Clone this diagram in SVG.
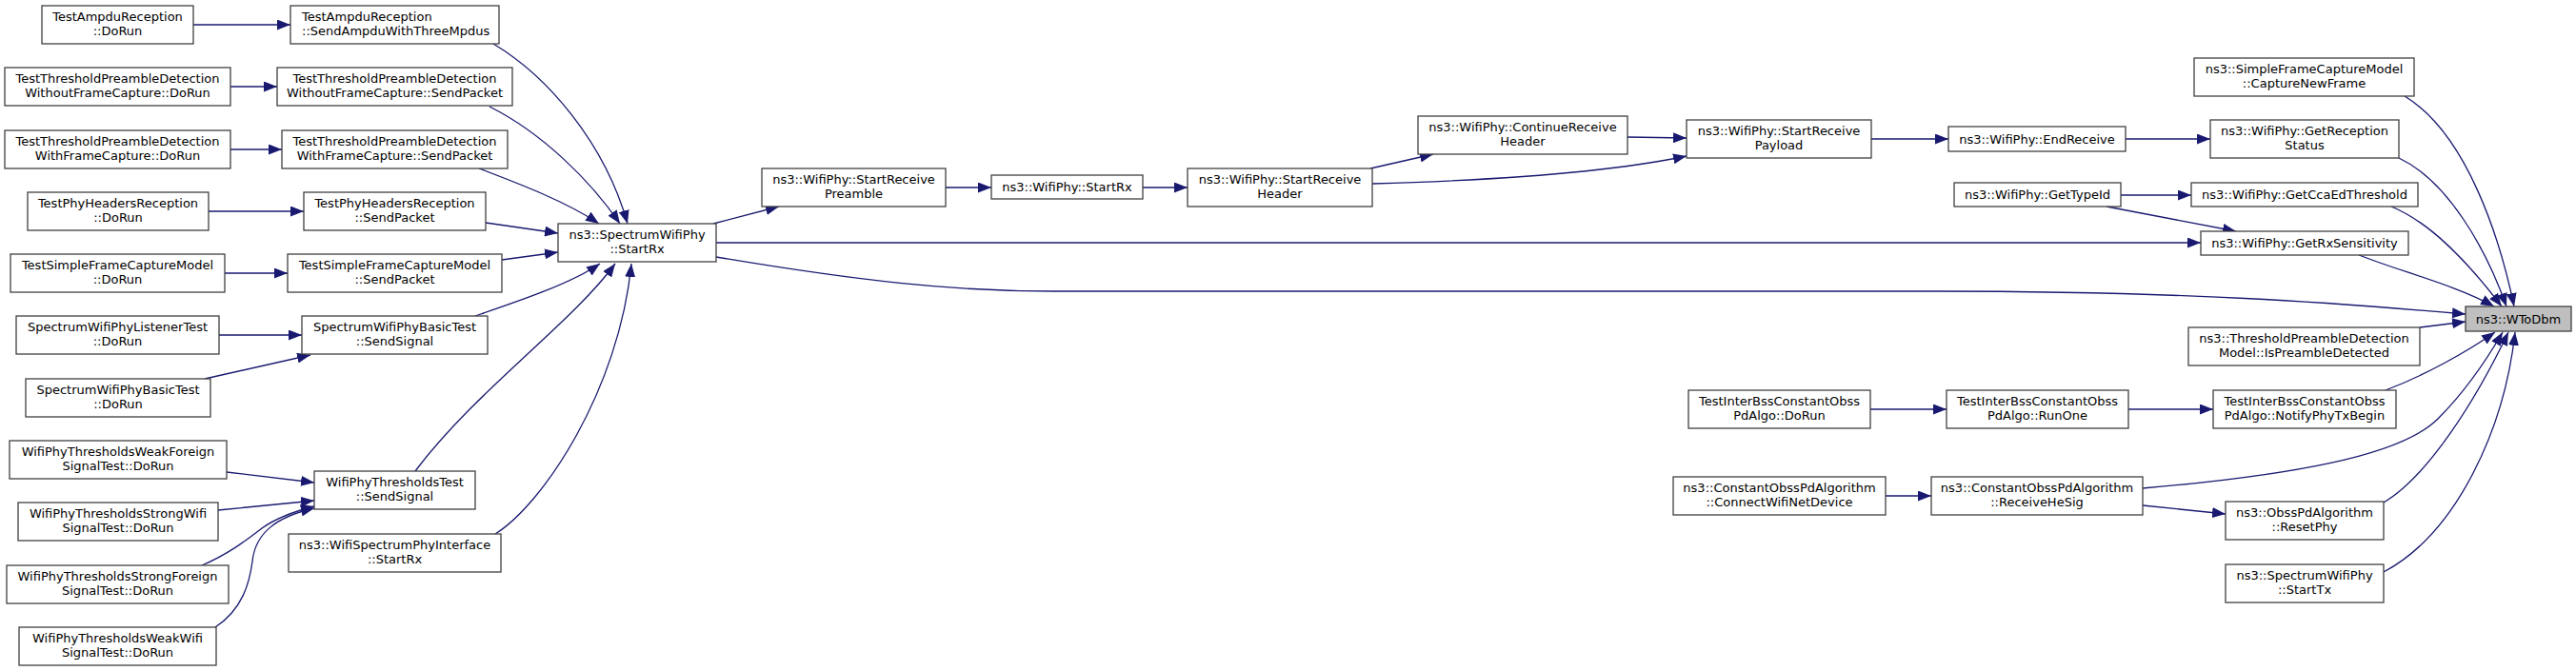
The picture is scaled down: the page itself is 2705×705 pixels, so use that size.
<svg xmlns="http://www.w3.org/2000/svg" width="2705" height="705" viewBox="0 0 2705 705">
<style>
.n rect{fill:#ffffff;stroke:#404040;stroke-width:1.3}
.root rect{fill:#bfbfbf;stroke:#404040;stroke-width:1.3}
text{font-family:"DejaVu Sans","Liberation Sans",sans-serif;font-size:13px;fill:#000;text-anchor:middle}
.e path{fill:none;stroke:#191970;stroke-width:1.3;marker-end:url(#ah)}
</style>
<defs>
<marker id="ah" viewBox="0 0 14 11" refX="14" refY="5.5" markerWidth="14" markerHeight="11" markerUnits="userSpaceOnUse" orient="auto">
<path d="M0,0 L14,5.5 L0,11 z" fill="#191970"/>
</marker>
</defs>
<rect width="2705" height="705" fill="#ffffff"/>
<g id="edges" class="e">
<path d="M203,26 L305,26"/>
<path d="M242,91 L291,91"/>
<path d="M242,157 L296,157"/>
<path d="M219,222 L319,222"/>
<path d="M236,287 L302,287"/>
<path d="M230,352 L317,352"/>
<path d="M215,398 L326,373"/>
<path d="M238,496 L330,507"/>
<path d="M229,536 L330,526"/>
<path d="M212,594 C240,582 258,568 275,555 C292,543 310,537 330,532"/>
<path d="M226,659 C255,640 262,612 265,590 C268,560 290,543 330,534"/>
<path d="M518,46 C575,80 635,150 659,235"/>
<path d="M514,112 C570,140 620,190 651,235"/>
<path d="M503,177 C545,193 595,212 629,235"/>
<path d="M510,234 L586,245"/>
<path d="M527,273 L586,265"/>
<path d="M499,332 C540,318 600,298 630,277"/>
<path d="M436,495 C500,410 600,340 646,277"/>
<path d="M520,561 C570,530 650,410 663,277"/>
<path d="M749,235 L818,217"/>
<path d="M752,255 L2311,255"/>
<path d="M752,270 C900,295 1000,306 1106,306 L2020,306 C2300,306 2450,318 2589,330"/>
<path d="M993,197 L1041,197"/>
<path d="M1200,197 L1247,197"/>
<path d="M1439,177 L1505,162"/>
<path d="M1441,193 C1550,190 1680,183 1771,164"/>
<path d="M1709,144 L1771,145"/>
<path d="M1965,146 L2046,146"/>
<path d="M2232,146 L2321,146"/>
<path d="M2227,205 L2301,205"/>
<path d="M2212,217 L2348,243"/>
<path d="M2525,101 C2590,140 2625,250 2640,322"/>
<path d="M2519,166 C2570,190 2610,260 2632,322"/>
<path d="M2511,217 C2555,235 2595,280 2627,322"/>
<path d="M2477,268 C2520,285 2580,300 2619,322"/>
<path d="M2541,344 L2589,338"/>
<path d="M2505,410 C2545,395 2590,370 2620,349"/>
<path d="M2250,513 C2400,500 2520,480 2560,440 C2590,410 2610,380 2628,349"/>
<path d="M2503,528 C2550,500 2600,420 2634,349"/>
<path d="M2503,601 C2580,560 2630,450 2641,349"/>
<path d="M2250,531 L2337,540"/>
<path d="M1964,430 L2044,430"/>
<path d="M2235,430 L2324,430"/>
<path d="M1980,521 L2028,521"/>
</g>
<g id="n1" class="n"><rect x="44" y="6" width="159" height="40"/><text x="123.5" y="22">TestAmpduReception</text><text x="123.5" y="37">::DoRun</text></g>
<g id="n2" class="n"><rect x="305" y="6" width="219" height="40"/><text x="317" y="22" style="text-anchor:start">TestAmpduReception</text><text x="317" y="37" style="text-anchor:start">::SendAmpduWithThreeMpdus</text></g>
<g id="n3" class="n"><rect x="5" y="71" width="237" height="40"/><text x="123.5" y="87">TestThresholdPreambleDetection</text><text x="123.5" y="102">WithoutFrameCapture::DoRun</text></g>
<g id="n4" class="n"><rect x="291" y="71" width="247" height="40"/><text x="414.5" y="87">TestThresholdPreambleDetection</text><text x="414.5" y="102">WithoutFrameCapture::SendPacket</text></g>
<g id="n5" class="n"><rect x="5" y="137" width="237" height="40"/><text x="123.5" y="153">TestThresholdPreambleDetection</text><text x="123.5" y="168">WithFrameCapture::DoRun</text></g>
<g id="n6" class="n"><rect x="296" y="137" width="237" height="40"/><text x="414.5" y="153">TestThresholdPreambleDetection</text><text x="414.5" y="168">WithFrameCapture::SendPacket</text></g>
<g id="n7" class="n"><rect x="29" y="202" width="190" height="40"/><text x="124" y="218">TestPhyHeadersReception</text><text x="124" y="233">::DoRun</text></g>
<g id="n8" class="n"><rect x="319" y="202" width="191" height="40"/><text x="414.5" y="218">TestPhyHeadersReception</text><text x="414.5" y="233">::SendPacket</text></g>
<g id="n9" class="n"><rect x="11" y="267" width="225" height="40"/><text x="123.5" y="283">TestSimpleFrameCaptureModel</text><text x="123.5" y="298">::DoRun</text></g>
<g id="n10" class="n"><rect x="302" y="267" width="225" height="40"/><text x="414.5" y="283">TestSimpleFrameCaptureModel</text><text x="414.5" y="298">::SendPacket</text></g>
<g id="n11" class="n"><rect x="17" y="332" width="213" height="40"/><text x="123.5" y="348">SpectrumWifiPhyListenerTest</text><text x="123.5" y="363">::DoRun</text></g>
<g id="n12" class="n"><rect x="317" y="332" width="195" height="40"/><text x="414.5" y="348">SpectrumWifiPhyBasicTest</text><text x="414.5" y="363">::SendSignal</text></g>
<g id="n13" class="n"><rect x="27" y="398" width="194" height="40"/><text x="124" y="414">SpectrumWifiPhyBasicTest</text><text x="124" y="429">::DoRun</text></g>
<g id="n14" class="n"><rect x="10" y="463" width="228" height="40"/><text x="124" y="479">WifiPhyThresholdsWeakForeign</text><text x="124" y="494">SignalTest::DoRun</text></g>
<g id="n15" class="n"><rect x="330" y="495" width="169" height="40"/><text x="414.5" y="511">WifiPhyThresholdsTest</text><text x="414.5" y="526">::SendSignal</text></g>
<g id="n16" class="n"><rect x="19" y="528" width="210" height="40"/><text x="124" y="544">WifiPhyThresholdsStrongWifi</text><text x="124" y="559">SignalTest::DoRun</text></g>
<g id="n17" class="n"><rect x="303" y="561" width="223" height="40"/><text x="414.5" y="577">ns3::WifiSpectrumPhyInterface</text><text x="414.5" y="592">::StartRx</text></g>
<g id="n18" class="n"><rect x="7" y="594" width="233" height="40"/><text x="123.5" y="610">WifiPhyThresholdsStrongForeign</text><text x="123.5" y="625">SignalTest::DoRun</text></g>
<g id="n19" class="n"><rect x="20" y="659" width="207" height="40"/><text x="123.5" y="675">WifiPhyThresholdsWeakWifi</text><text x="123.5" y="690">SignalTest::DoRun</text></g>
<g id="n20" class="n"><rect x="586" y="235" width="166" height="40"/><text x="669" y="251">ns3::SpectrumWifiPhy</text><text x="669" y="266">::StartRx</text></g>
<g id="n21" class="n"><rect x="800" y="177" width="193" height="40"/><text x="896.5" y="193">ns3::WifiPhy::StartReceive</text><text x="896.5" y="208">Preamble</text></g>
<g id="n22" class="n"><rect x="1041" y="184" width="159" height="25"/><text x="1120.5" y="201">ns3::WifiPhy::StartRx</text></g>
<g id="n23" class="n"><rect x="1247" y="177" width="194" height="40"/><text x="1344" y="193">ns3::WifiPhy::StartReceive</text><text x="1344" y="208">Header</text></g>
<g id="n24" class="n"><rect x="1489" y="122" width="220" height="40"/><text x="1599" y="138">ns3::WifiPhy::ContinueReceive</text><text x="1599" y="153">Header</text></g>
<g id="n25" class="n"><rect x="1771" y="126" width="194" height="40"/><text x="1868" y="142">ns3::WifiPhy::StartReceive</text><text x="1868" y="157">Payload</text></g>
<g id="n26" class="n"><rect x="2046" y="133" width="186" height="26"/><text x="2139" y="150.5">ns3::WifiPhy::EndReceive</text></g>
<g id="n27" class="n"><rect x="2304" y="61" width="231" height="40"/><text x="2419.5" y="77">ns3::SimpleFrameCaptureModel</text><text x="2419.5" y="92">::CaptureNewFrame</text></g>
<g id="n28" class="n"><rect x="2321" y="126" width="198" height="40"/><text x="2420" y="142">ns3::WifiPhy::GetReception</text><text x="2420" y="157">Status</text></g>
<g id="n29" class="n"><rect x="2052" y="192" width="175" height="25"/><text x="2139.5" y="209">ns3::WifiPhy::GetTypeId</text></g>
<g id="n30" class="n"><rect x="2301" y="192" width="238" height="25"/><text x="2420" y="209">ns3::WifiPhy::GetCcaEdThreshold</text></g>
<g id="n31" class="n"><rect x="2311" y="243" width="218" height="25"/><text x="2420" y="260">ns3::WifiPhy::GetRxSensitivity</text></g>
<g id="n32" class="root"><rect x="2589" y="322" width="111" height="26"/><text x="2644.5" y="339.5">ns3::WToDbm</text></g>
<g id="n33" class="n"><rect x="2298" y="344" width="243" height="40"/><text x="2419.5" y="360">ns3::ThresholdPreambleDetection</text><text x="2419.5" y="375">Model::IsPreambleDetected</text></g>
<g id="n34" class="n"><rect x="1773" y="410" width="191" height="40"/><text x="1868.5" y="426">TestInterBssConstantObss</text><text x="1868.5" y="441">PdAlgo::DoRun</text></g>
<g id="n35" class="n"><rect x="2044" y="410" width="191" height="40"/><text x="2139.5" y="426">TestInterBssConstantObss</text><text x="2139.5" y="441">PdAlgo::RunOne</text></g>
<g id="n36" class="n"><rect x="2324" y="410" width="192" height="40"/><text x="2420" y="426">TestInterBssConstantObss</text><text x="2420" y="441">PdAlgo::NotifyPhyTxBegin</text></g>
<g id="n37" class="n"><rect x="1757" y="501" width="223" height="40"/><text x="1868.5" y="517">ns3::ConstantObssPdAlgorithm</text><text x="1868.5" y="532">::ConnectWifiNetDevice</text></g>
<g id="n38" class="n"><rect x="2028" y="501" width="222" height="40"/><text x="2139" y="517">ns3::ConstantObssPdAlgorithm</text><text x="2139" y="532">::ReceiveHeSig</text></g>
<g id="n39" class="n"><rect x="2337" y="527" width="166" height="40"/><text x="2420" y="543">ns3::ObssPdAlgorithm</text><text x="2420" y="558">::ResetPhy</text></g>
<g id="n40" class="n"><rect x="2337" y="593" width="166" height="40"/><text x="2420" y="609">ns3::SpectrumWifiPhy</text><text x="2420" y="624">::StartTx</text></g>
</svg>
